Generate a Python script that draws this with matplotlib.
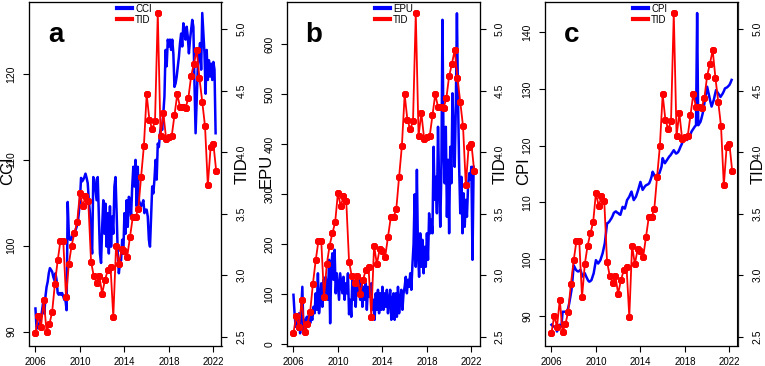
import numpy as np
import matplotlib
matplotlib.use("Agg")
import matplotlib.pyplot as plt
from matplotlib.lines import Line2D

plt.rcParams['font.family'] = ['Liberation Sans', 'DejaVu Sans']

# TID, quarterly from 2006Q1
tid = [2.53, 2.67, 2.58, 2.80, 2.54, 2.60, 2.70, 2.93,
       3.12, 3.28, 3.28, 2.82, 3.09, 3.24, 3.34, 3.43,
       3.67, 3.56, 3.64, 3.60, 3.11, 2.99, 2.94, 2.99,
       2.85, 2.96, 3.04, 3.07, 2.66, 3.24, 3.09, 3.21,
       3.20, 3.15, 3.31, 3.47, 3.47, 3.54, 3.80, 4.05,
       4.47, 4.26, 4.19, 4.25, 5.13, 4.13, 4.32, 4.11,
       4.12, 4.13, 4.30, 4.47, 4.37, 4.37, 4.36, 4.44,
       4.62, 4.72, 4.83, 4.60, 4.41, 4.21, 3.73, 4.04,
       4.07, 3.85]

# blue series, read every ~0.1 year from 2006.0 to 2022.2
cci = [92.7, 90.4, 90.4, 90.8, 91.2, 91.7, 92.5, 93.5, 92.1, 94.1,
       95.2, 95.8, 96.8, 97.4, 97.2, 97.0, 96.4, 96.0, 96.8, 96.0,
       94.5, 94.3, 94.5, 94.3, 94.5, 94.1, 93.7, 93.7, 92.5, 105.1,
       101.4, 100.7, 100.7, 101.1, 101.4, 101.6, 101.8, 102.2, 102.6, 103.8,
       105.3, 107.9, 107.5, 107.7, 108.0, 108.4, 107.9, 107.3, 105.3, 103.8,
       100.7, 99.1, 108.0, 107.7, 106.5, 105.3, 108.0, 103.4, 99.1, 98.0,
       102.2, 105.3, 101.4, 104.9, 99.9, 103.8, 99.1, 104.6, 99.9, 103.4,
       101.4, 106.9, 108.0, 103.8, 99.1, 96.8, 98.0, 98.3, 100.7, 99.1,
       103.8, 101.4, 105.3, 102.2, 105.7, 105.3, 103.4, 106.9, 109.2, 106.9,
       110.0, 104.6, 109.2, 105.3, 104.9, 104.6, 104.9, 105.3, 103.8, 104.2,
       104.2, 103.4, 100.7, 99.9, 103.4, 106.9, 106.1, 107.7, 110.0, 107.7,
       111.9, 111.5, 113.1, 113.9, 113.5, 115.4, 117.4, 122.8, 120.9, 124.0,
       123.2, 124.0, 122.8, 124.0, 122.4, 118.5, 118.9, 119.7, 120.9, 122.0,
       123.6, 124.7, 123.2, 125.9, 125.1, 124.0, 125.5, 124.3, 122.4, 124.0,
       125.1, 126.3, 125.5, 118.9, 113.1, 117.0, 120.9, 122.0, 123.6, 120.5,
       127.1, 124.7, 122.4, 117.7, 122.8, 119.3, 121.6, 119.7, 121.2, 119.3,
       121.4, 120.5, 113.1]

epu = [99, 62, 35, 49, 29, 62, 22, 69, 115, 22,
       49, 29, 55, 39, 59, 42, 55, 49, 75, 62,
       102, 69, 142, 62, 89, 122, 75, 129, 102, 135,
       115, 89, 169, 42, 155, 182, 129, 189, 102, 142,
       115, 89, 142, 122, 102, 135, 89, 122, 102, 142,
       60, 89, 55, 135, 89, 122, 75, 135, 102, 135,
       89, 122, 75, 115, 89, 122, 69, 115, 95, 109,
       122, 69, 89, 49, 102, 69, 109, 62, 102, 69,
       115, 69, 102, 75, 109, 62, 89, 109, 49, 89,
       102, 49, 102, 55, 115, 62, 89, 109, 69, 102,
       115, 135, 102, 129, 115, 142, 109, 160, 200, 300,
       155, 349, 182, 135, 222, 155, 209, 142, 195, 155,
       222, 169, 262, 222, 249, 222, 395, 289, 335, 262,
       435, 322, 235, 342, 649, 389, 322, 435, 255, 369,
       222, 395, 322, 502, 422, 355, 475, 662, 489, 355,
       262, 335, 222, 302, 235, 289, 255, 315, 342, 329,
       355, 169, 355]

cpi = [88.4, 88.2, 88.1, 88.0, 87.8, 87.2, 87.8, 88.4, 88.3, 88.1,
       90.7, 90.7, 90.7, 90.6, 90.7, 91.3, 92.2, 93.3, 94.5, 96.5,
       98.9, 98.5, 98.1, 97.9, 97.8, 97.9, 98.1, 97.5, 96.9, 97.2,
       97.5, 97.0, 96.6, 96.2, 96.0, 96.1, 96.3, 96.9, 97.5, 98.6,
       99.8, 99.5, 99.2, 99.5, 99.8, 100.4, 101.0, 101.9, 102.8, 104.5,
       106.3, 106.4, 106.6, 106.9, 107.2, 107.6, 108.1, 108.3, 108.4, 108.2,
       108.1, 107.9, 107.8, 108.5, 109.2, 109.0, 108.9, 109.6, 110.4, 110.7,
       111.0, 111.5, 111.9, 111.1, 110.4, 110.7, 111.0, 111.6, 112.2, 112.9,
       113.6, 112.9, 112.2, 112.5, 112.8, 113.0, 113.1, 113.2, 113.4, 113.9,
       114.5, 115.4, 115.0, 114.5, 114.6, 114.8, 115.0, 115.1, 115.7, 116.3,
       117.8, 117.3, 116.9, 117.2, 117.5, 117.8, 118.1, 118.3, 118.6, 118.9,
       119.2, 118.9, 118.6, 118.7, 118.9, 119.3, 119.8, 120.2, 120.7, 121.1,
       121.6, 121.3, 121.0, 121.3, 121.6, 122.0, 122.5, 122.8, 123.1, 123.4,
       123.6, 143.4, 123.6, 123.9, 124.2, 124.9, 125.7, 126.9, 128.1, 129.2,
       130.4, 129.5, 128.6, 127.7, 126.9, 127.5, 128.1, 129.0, 129.8, 129.5,
       129.2, 128.9, 128.6, 128.9, 129.2, 129.6, 130.1, 130.2, 130.3, 130.5,
       130.7, 131.1, 131.6]

tid_years = 2006 + np.arange(len(tid)) / 4
years = np.linspace(2006, 2022.2, len(cci))

panels = [
    ('a', 'CCI', cci, (88.39, 128.38), [90, 100, 110, 120], 29),
    ('b', 'EPU', epu, (-2.4, 684.6), [0, 100, 200, 300, 400, 500, 600], 287),
    ('c', 'CPI', cpi, (84.74, 145.35), [90, 100, 110, 120, 130, 140], 545),
]

W, H = 765, 366
fig = plt.figure(figsize=(W / 100, H / 100), dpi=100)

for letter, name, vals, ylim, yticks, left in panels:
    ax = fig.add_axes([left / W, 20.5 / H, 192.5 / W, 343.5 / H])
    ax.plot(years, vals, color='#0000FF', lw=1.8)
    ax.set_xlim(2005.42, 2022.73)
    ax.set_ylim(*ylim)
    ax.set_xticks([2006, 2010, 2014, 2018, 2022])
    ax.set_yticks(yticks)
    ax.tick_params(axis='x', labelsize=7, length=4, pad=4, width=0.8)
    ax.tick_params(axis='y', labelsize=7.5, length=4, pad=5, width=0.8,
                   labelrotation=90)
    plt.setp(ax.get_yticklabels(), va='center')
    for s in ax.spines.values():
        s.set_linewidth(0.9)
        s.set_color('#222222')

    ax2 = ax.twinx()
    ax2.plot(tid_years, tid, color='#FF0000', lw=1.3,
             marker=(8, 2, 0), ms=5, mew=1.6)
    ax2.set_ylim(2.428, 5.222)
    ax2.set_yticks([2.5, 3.0, 3.5, 4.0, 4.5, 5.0])
    ax2.set_yticklabels(['2.5', '3.0', '3.5', '4.0', '4.5', '5.0'])
    ax2.tick_params(axis='y', labelsize=7.5, length=4, pad=7, width=0.8,
                    labelrotation=90)
    plt.setp(ax2.get_yticklabels(), va='center')

    handles = [Line2D([], [], color='#0000FF', lw=3),
               Line2D([], [], color='#FF0000', lw=3)]
    ax2.legend(handles, [name, 'TID'], loc='upper left',
               bbox_to_anchor=(0.455, 0.995), frameon=False, fontsize=7,
               handlelength=1.6, handletextpad=0.3, labelspacing=0.1,
               borderpad=0, borderaxespad=0)

    ax2.text(0.14, 0.905, letter, transform=ax.transAxes, fontsize=20,
             fontweight='bold', ha='center', va='center')

    x0 = left / W
    fig.text(x0 - 21 / W, 1 - 171 / H, name, rotation=90, fontsize=12,
             ha='center', va='center')
    fig.text(x0 + 213 / W, 1 - 171 / H, 'TID', rotation=90, fontsize=12,
             ha='center', va='center')

fig.savefig('out.png', dpi=100)
